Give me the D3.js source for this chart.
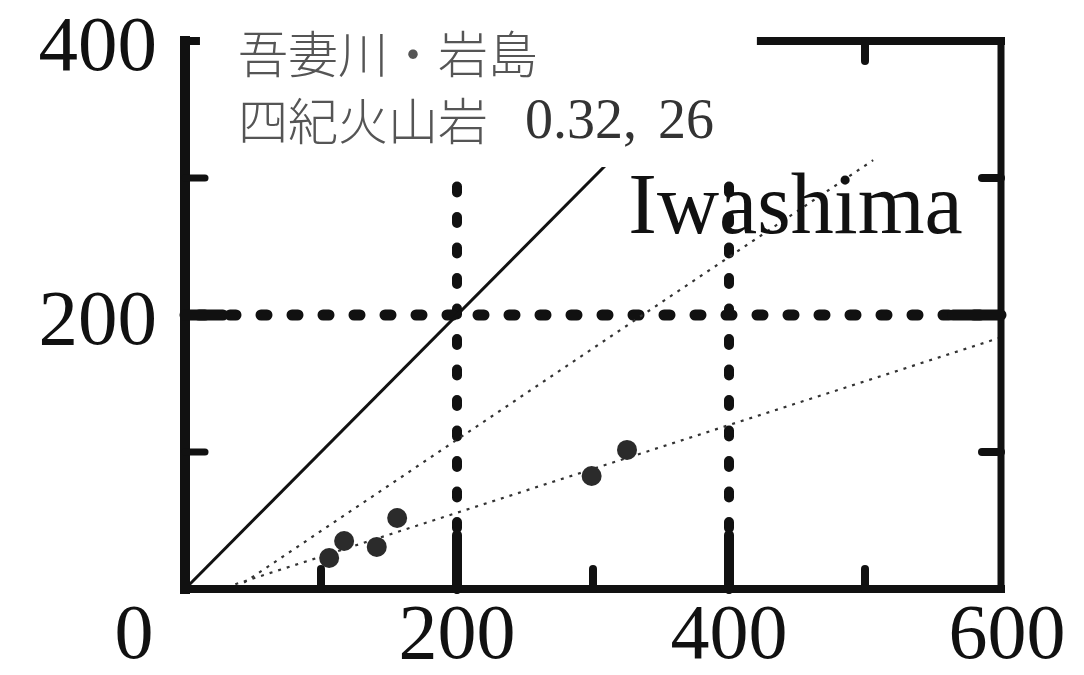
<!DOCTYPE html>
<html>
<head>
<meta charset="utf-8">
<script src="https://cdn.jsdelivr.net/npm/d3@7"></script>
<style>
  html, body { margin: 0; padding: 0; background: #fff; }
  svg { display: block; }
</style>
</head>
<body>
<svg id="chart" width="1084" height="675"></svg>
<script>
// Axis ticks
const xTickLabels = [0, 200, 400, 600];
const yTickLabels = [200, 400];
const xMinorTicks = [100, 300, 500];
const yMinorTicks = [100, 300];
const xGuides = [200, 400];
const yGuides = [200];

// Samples
const sampleX = [106, 117, 141, 156, 299, 325];
const sampleY = [22.6, 35.0, 30.7, 51.8, 82.5, 101.5];

// Reference lines (endpoints)
const equalLine = [[0, 0], [400, 400]];
const steepFit = [[38, 1], [506, 313]];
const shallowFit = [[37, 3.5], [598, 183]];

// Annotation text
const titleLines = ["吾妻川・岩島", "四紀火山岩"];
const fitParams = ["0.32,", "26"];
const siteName = "Iwashima";

const svg = d3.select("#chart");
const x = d3.scaleLinear().domain([0, 600]).range([185, 1001]);
const y = d3.scaleLinear().domain([0, 400]).range([589, 41]);
const line = d3.line().x(d => x(d[0])).y(d => y(d[1]));

const serif = "'Liberation Serif', 'Times New Roman', serif";
const ink = "#111";

// Thick dashed guide lines
svg.selectAll("line.vguide").data(xGuides).join("line")
  .attr("x1", d => x(d)).attr("x2", d => x(d))
  .attr("y1", y(0)).attr("y2", y(400))
  .attr("stroke", ink).attr("stroke-width", 10)
  .attr("stroke-linecap", "round")
  .attr("stroke-dasharray", "6 24.5");
svg.selectAll("line.hguide").data(yGuides).join("line")
  .attr("x1", x(0)).attr("x2", x(600))
  .attr("y1", d => y(d)).attr("y2", d => y(d))
  .attr("stroke", ink).attr("stroke-width", 11)
  .attr("stroke-linecap", "round")
  .attr("stroke-dasharray", "6 25")
  .attr("stroke-dashoffset", -14);

// Fitted dotted lines
svg.selectAll("path.fit").data([steepFit, shallowFit]).join("path")
  .attr("d", line)
  .attr("fill", "none").attr("stroke", "#333")
  .attr("stroke-width", 2.2)
  .attr("stroke-dasharray", "3 6");

// 1:1 line
svg.append("path").attr("d", line(equalLine))
  .attr("fill", "none").attr("stroke", ink).attr("stroke-width", 3);

// Sample points
svg.selectAll("circle").data(sampleX).join("circle")
  .attr("cx", d => x(d)).attr("cy", (d, i) => y(sampleY[i]))
  .attr("r", 10).attr("fill", "#2b2b2b");

// Frame
const frame = [
  { x1: 0, y1: 0, x2: 0, y2: 400, w: 10 },
  { x1: 0, y1: 0, x2: 600, y2: 0, w: 8 },
  { x1: 600, y1: 0, x2: 600, y2: 400, w: 7 },
  { x1: 0, y1: 400, x2: 600, y2: 400, w: 8 }
];
svg.selectAll("line.frame").data(frame).join("line")
  .attr("x1", d => x(d.x1)).attr("y1", d => y(d.y1))
  .attr("x2", d => x(d.x2)).attr("y2", d => y(d.y2))
  .attr("stroke", ink).attr("stroke-width", d => d.w)
  .attr("stroke-linecap", "square");

// Inward ticks: minor short, guide positions long
const tickSegs = [];
xMinorTicks.forEach(v => {
  tickSegs.push({ x1: x(v), y1: y(0), x2: x(v), y2: y(0) - 20, w: 8 });
  tickSegs.push({ x1: x(v), y1: y(400), x2: x(v), y2: y(400) + 20, w: 8 });
});
yMinorTicks.forEach(v => {
  tickSegs.push({ x1: x(0), y1: y(v), x2: x(0) + 20, y2: y(v), w: 7 });
  tickSegs.push({ x1: x(600), y1: y(v), x2: x(600) - 19, y2: y(v), w: 8 });
});
xGuides.forEach(v => {
  tickSegs.push({ x1: x(v), y1: y(0), x2: x(v), y2: y(0) - 54, w: 10 });
});
yGuides.forEach(v => {
  tickSegs.push({ x1: x(0), y1: y(v), x2: x(0) + 38, y2: y(v), w: 11 });
  tickSegs.push({ x1: x(600), y1: y(v), x2: x(600) - 48, y2: y(v), w: 11 });
});
svg.selectAll("line.tick").data(tickSegs).join("line")
  .attr("x1", d => d.x1).attr("y1", d => d.y1)
  .attr("x2", d => d.x2).attr("y2", d => d.y2)
  .attr("stroke", ink).attr("stroke-width", d => d.w)
  .attr("stroke-linecap", "round");

// Label panel (opaque, sits over the upper-left of the plot)
svg.append("rect")
  .attr("x", x(11)).attr("y", 0)
  .attr("width", x(420.5) - x(11)).attr("height", y(308))
  .attr("fill", "#fff");

const title = svg.append("g")
  .attr("font-family", "'Noto Sans CJK JP', 'Noto Sans CJK SC', sans-serif")
  .attr("font-size", 50).attr("fill", "#555").attr("font-weight", 300);
titleLines.forEach((t, i) => {
  title.append("text").attr("x", 238).attr("y", 73 + i * 67).text(t);
});
const params = svg.append("text")
  .attr("font-family", serif).attr("font-size", 56).attr("fill", "#333")
  .attr("y", 138);
params.append("tspan").attr("x", 525).text(fitParams[0] + " ");
params.append("tspan").attr("x", 658).text(fitParams[1]);

// Site name
svg.append("text")
  .attr("x", x(326)).attr("y", y(259.5))
  .attr("font-family", serif).attr("font-size", 86).attr("fill", ink)
  .text(siteName);

// Tick labels
svg.selectAll("text.xl").data(xTickLabels).join("text")
  .attr("x", d => x(d) + (d === 0 ? -51 : (d === 600 ? 6 : 0)))
  .attr("y", y(0) + 69)
  .attr("text-anchor", "middle")
  .attr("font-family", serif).attr("font-size", 78).attr("fill", ink)
  .text(d => d);
svg.selectAll("text.yl").data(yTickLabels).join("text")
  .attr("x", 157).attr("y", d => y(d) + 29)
  .attr("text-anchor", "end")
  .attr("font-family", serif).attr("font-size", 79).attr("fill", ink)
  .text(d => d);
</script>
</body>
</html>
